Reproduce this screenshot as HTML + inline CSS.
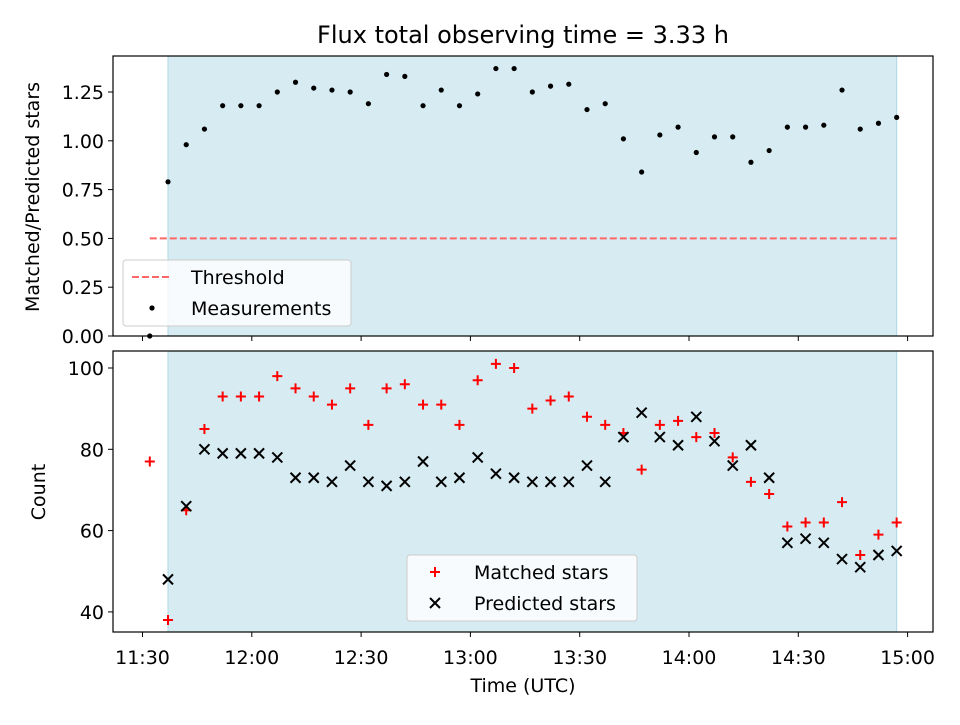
<!DOCTYPE html>
<html><head><meta charset="utf-8"><style>
body{margin:0;background:#fff}
svg text{font-family:"DejaVu Sans","Liberation Sans",sans-serif;fill:#000}
</style></head><body>
<svg id="c" width="960" height="720" xmlns="http://www.w3.org/2000/svg"></svg>
<script>
const startMin = 2;
const stepMin = 5;
const ratio = [0,0.79,0.98,1.06,1.18,1.18,1.18,1.25,1.30,1.27,1.26,1.25,1.19,1.34,1.33,1.18,1.26,1.18,1.24,1.37,1.37,1.25,1.28,1.29,1.16,1.19,1.01,0.84,1.03,1.07,0.94,1.02,1.02,0.89,0.95,1.07,1.07,1.08,1.26,1.06,1.09,1.12];
const matched = [77,38,65,85,93,93,93,98,95,93,91,95,86,95,96,91,91,86,97,101,100,90,92,93,88,86,84,75,86,87,83,84,78,72,69,61,62,62,67,54,59,62];
const predicted = [null,48,66,80,79,79,79,78,73,73,72,76,72,71,72,77,72,73,78,74,73,72,72,72,76,72,83,89,83,81,88,82,76,81,73,57,58,57,53,51,54,55];
const xTickLabels = ["11:30","12:00","12:30","13:00","13:30","14:00","14:30","15:00"];
const topTicks = [0,0.25,0.5,0.75,1.0,1.25];
const botTicks = [40,60,80,100];
const threshold = 0.5;

const NS="http://www.w3.org/2000/svg";
const svg=document.getElementById('c');
function mk(t,a,p){const e=document.createElementNS(NS,t);for(const k in a)e.setAttribute(k,a[k]);(p||svg).appendChild(e);return e;}
const L=113,R=933;
const xs=m=>142.5+(m)*(109.3/30);
const yTop=v=>336-v*195.2;
const yBot=v=>368+(100-v)*4.065;
const tMin=i=>startMin+i*stepMin;
const shadeX0=xs(tMin(1)), shadeX1=xs(tMin(ratio.length-1));

function axes(y0,y1,name){
  const r=mk('rect',{x:shadeX0,y:y0,width:shadeX1-shadeX0,height:y1-y0,fill:'#add8e6','fill-opacity':0.5,stroke:'#add8e6'});
  
}
axes(56,336,'top');axes(351,632,'bottom');

const th=mk('line',{x1:xs(tMin(0)),x2:shadeX1,y1:yTop(threshold),y2:yTop(threshold),stroke:'#ff6666','stroke-width':2,'stroke-dasharray':'7,3'});

ratio.forEach((v,i)=>{const c=mk('circle',{cx:xs(tMin(i)),cy:yTop(v),r:2.6,fill:'#000'});
});

matched.forEach((v,i)=>{if(v==null)return;const x=xs(tMin(i)),y=yBot(v);
const g=mk('path',{d:`M${x-5} ${y}H${x+5}M${x} ${y-5}V${y+5}`,stroke:'red','stroke-width':2});
});
predicted.forEach((v,i)=>{if(v==null)return;const x=xs(tMin(i)),y=yBot(v);
const g=mk('path',{d:`M${x-5} ${y-5}L${x+5} ${y+5}M${x-5} ${y+5}L${x+5} ${y-5}`,stroke:'#000','stroke-width':2});
});

[[56,336,'top-axes-frame'],[351,632,'bottom-axes-frame']].forEach(([a,b,n])=>{const f=mk('rect',{x:L,y:a,width:R-L,height:b-a,fill:'none',stroke:'#000','stroke-width':1.2});});

xTickLabels.forEach((lab,i)=>{const x=xs(i*30);
mk('line',{x1:x,x2:x,y1:336,y2:341,stroke:'#000'});
mk('line',{x1:x,x2:x,y1:632,y2:637,stroke:'#000'});
const t=mk('text',{x:x,y:664,'font-size':19,'text-anchor':'middle'});t.textContent=lab;
});
topTicks.forEach(v=>{const y=yTop(v);mk('line',{x1:L-5,x2:L,y1:y,y2:y,stroke:'#000'});
const t=mk('text',{x:L-9,y:y+7,'font-size':19,'text-anchor':'end'});t.textContent=v.toFixed(2);
});
botTicks.forEach(v=>{const y=yBot(v);mk('line',{x1:L-5,x2:L,y1:y,y2:y,stroke:'#000'});
const t=mk('text',{x:L-9,y:y+7,'font-size':19,'text-anchor':'end'});t.textContent=v;
});
</script>
<svg width="960" height="720" style="position:absolute;left:0;top:0">
<text x="523" y="43" font-size="24" text-anchor="middle">Flux total observing time = 3.33 h</text>
<text x="523" y="692" font-size="19" text-anchor="middle">Time (UTC)</text>
<text transform="translate(39,197) rotate(-90)" font-size="19" text-anchor="middle">Matched/Predicted stars</text>
<text transform="translate(45,492) rotate(-90)" font-size="19" text-anchor="middle">Count</text>
<g>
<rect x="123" y="260" width="228" height="66" rx="3" fill="#fff" fill-opacity="0.8" stroke="#ccc"/>
<line x1="132" x2="172" y1="277" y2="277" stroke="#ff6666" stroke-width="2" stroke-dasharray="7,3"/>
<text x="191" y="284" font-size="19">Threshold</text>
<circle cx="152" cy="308" r="2.6" fill="#000"/>
<text x="191" y="315" font-size="19">Measurements</text>
</g>
<g>
<rect x="407" y="555" width="230" height="66" rx="3" fill="#fff" fill-opacity="0.8" stroke="#ccc"/>
<path d="M430 572H440M435 567V577" stroke="red" stroke-width="2"/>
<text x="474" y="579" font-size="19">Matched stars</text>
<path d="M430 598L440 608M430 608L440 598" stroke="#000" stroke-width="2"/>
<text x="474" y="610" font-size="19">Predicted stars</text>
</g>
</svg>
</body></html>
